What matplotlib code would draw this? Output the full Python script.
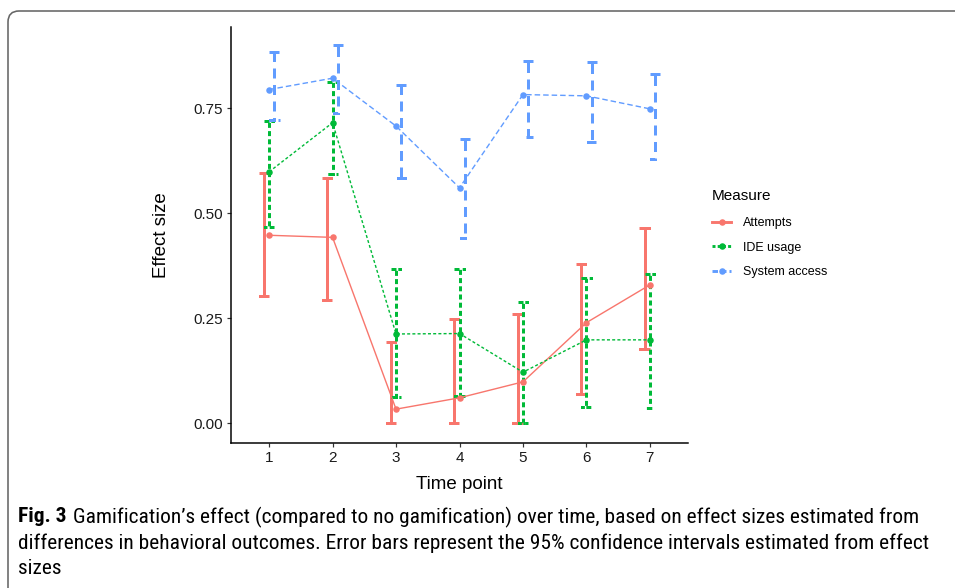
import matplotlib
matplotlib.use("Agg")
import matplotlib.pyplot as plt
from matplotlib import font_manager
from matplotlib.patches import FancyBboxPatch
from matplotlib.transforms import IdentityTransform
from matplotlib.lines import Line2D
import numpy as np

# ---------------- data ----------------
time_points = [1, 2, 3, 4, 5, 6, 7]
measures = ["Attempts", "IDE usage", "System access"]

attempts = [0.447, 0.442, 0.033, 0.060, 0.098, 0.239, 0.329]
attempts_lo = [0.302, 0.293, 0.000, 0.000, 0.000, 0.068, 0.176]
attempts_hi = [0.595, 0.583, 0.193, 0.248, 0.260, 0.378, 0.464]

ide = [0.598, 0.715, 0.212, 0.213, 0.121, 0.198, 0.198]
ide_lo = [0.467, 0.593, 0.063, 0.064, 0.000, 0.037, 0.035]
ide_hi = [0.720, 0.813, 0.367, 0.367, 0.287, 0.346, 0.354]

sysacc = [0.794, 0.821, 0.707, 0.560, 0.782, 0.779, 0.748]
sysacc_lo = [0.721, 0.737, 0.583, 0.440, 0.681, 0.669, 0.628]
sysacc_hi = [0.883, 0.899, 0.805, 0.677, 0.862, 0.860, 0.832]

y_ticks = [0.00, 0.25, 0.50, 0.75]
y_tick_labels = ["0.00", "0.25", "0.50", "0.75"]

caption_bold = "Fig. 3"
caption_lines = [
    "Gamification\u2019s effect (compared to no gamification) over time, based on effect sizes estimated from",
    "differences in behavioral outcomes. Error bars represent the 95% confidence intervals estimated from effect",
    "sizes",
]

# ---------------- style ----------------
plt.rcParams["lines.scale_dashes"] = False
plt.rcParams["font.family"] = ["Liberation Sans", "DejaVu Sans"]

avail = {f.name for f in font_manager.fontManager.ttflist}
cap_font = None
for cand in ["Liberation Sans Narrow", "DejaVu Sans Condensed", "Roboto Condensed", "Open Sans Condensed"]:
    if cand in avail:
        cap_font = cand
        break
if cap_font is None:
    cap_font = "Liberation Sans"

colors = ["#F8766D", "#00BA38", "#619CFF"]
px = 0.72  # points per pixel at dpi 100
line_styles = [(0, ()), (0, (3 * px, 2.2 * px)), (0, (5.5 * px, 3 * px))]
bar_styles = [(0, ()), (0, (5 * px, 3.2 * px)), (0, (10 * px, 6.5 * px))]
dodge = [-0.085, 0.0, 0.085]
cap_half = 0.08

fig = plt.figure(figsize=(9.55, 5.88), dpi=100)
W, H = 955, 588
ax = fig.add_axes([231 / W, 1 - 443 / H, (688 - 231) / W, (443 - 27) / H])

series = [
    (attempts, attempts_lo, attempts_hi),
    (ide, ide_lo, ide_hi),
    (sysacc, sysacc_lo, sysacc_hi),
]

x = np.array(time_points, dtype=float)
for i, (vals, lo, hi) in enumerate(series):
    # error bars (ggplot-like single path including caps)
    for xi, l, h in zip(x + dodge[i], lo, hi):
        xs = [xi - cap_half, xi + cap_half, xi, xi, xi - cap_half, xi + cap_half]
        ys = [h, h, h, l, l, l]
        ax.plot(xs, ys, color=colors[i], lw=3 * px, linestyle=bar_styles[i],
                solid_joinstyle="miter", dash_joinstyle="miter", solid_capstyle="butt",
                dash_capstyle="butt", zorder=2 + i)
    ax.plot(x, vals, color=colors[i], lw=1.4 * px, linestyle=line_styles[i], zorder=5 + i)
    ax.plot(x, vals, color=colors[i], lw=0, marker="o", markersize=6.5 * px,
            markeredgewidth=0, zorder=8 + i)

ax.set_xlim(0.4, 7.6)
ax.set_ylim(-0.0476, 0.9429)
ax.set_xticks(time_points)
ax.set_xticklabels([str(t) for t in time_points])
ax.set_yticks(y_ticks)
ax.set_yticklabels(y_tick_labels)
for s in ["top", "right"]:
    ax.spines[s].set_visible(False)
for s in ["left", "bottom"]:
    ax.spines[s].set_linewidth(1.5 * px)
    ax.spines[s].set_color("black")
ax.tick_params(axis="both", length=4 * px, width=1.2 * px, color="#333333",
               labelsize=11, labelcolor="#1a1a1a", pad=3)
ax.set_xlabel("Time point", fontsize=13.5, labelpad=8)
ax.set_ylabel("Effect size", fontsize=13.5, labelpad=17)

handles = [
    Line2D([0], [0], color=colors[i], lw=2.9 * px, linestyle=line_styles[i] if i else "-",
           marker="o", markersize=6.5 * px, markeredgewidth=0)
    for i in range(3)
]
leg = fig.legend(handles, measures, title="Measure", loc="upper left",
                 bbox_to_anchor=(712 / W, 1 - 189 / H), frameon=False,
                 fontsize=9, title_fontsize=11, handlelength=1.55, handletextpad=0.95,
                 labelspacing=1.02, borderaxespad=0, borderpad=0)
leg._legend_box.align = "left"
leg._legend_box.sep = 10

# border box
box = FancyBboxPatch((8, -30), 980, 588 - 11 + 30, boxstyle="round,pad=0,rounding_size=11",
                     transform=IdentityTransform(), facecolor="none", edgecolor="#666666",
                     lw=1.6 * px)
fig.patches.append(box)

# caption
fs = 12.5
tb = fig.text(18 / W, 1 - 517 / H, caption_bold, fontsize=fs, fontweight="bold",
              family=[cap_font, "DejaVu Sans"], va="center", ha="left")
t1 = fig.text(73 / W, 1 - 517 / H, caption_lines[0], fontsize=fs,
              family=[cap_font, "DejaVu Sans"], va="center", ha="left")
t2 = fig.text(18 / W, 1 - 543 / H, caption_lines[1], fontsize=fs,
              family=[cap_font, "DejaVu Sans"], va="center", ha="left")
t3 = fig.text(18 / W, 1 - 568 / H, caption_lines[2], fontsize=fs,
              family=[cap_font, "DejaVu Sans"], va="center", ha="left")

# fit caption width to reference (line 1 spans x=73..925)
fig.canvas.draw()
r = fig.canvas.get_renderer()
w1 = t1.get_window_extent(r).width
scale = (925 - 73) / w1
for t in (tb, t1, t2, t3):
    t.set_fontsize(fs * scale)

fig.savefig("out.png", dpi=100)
